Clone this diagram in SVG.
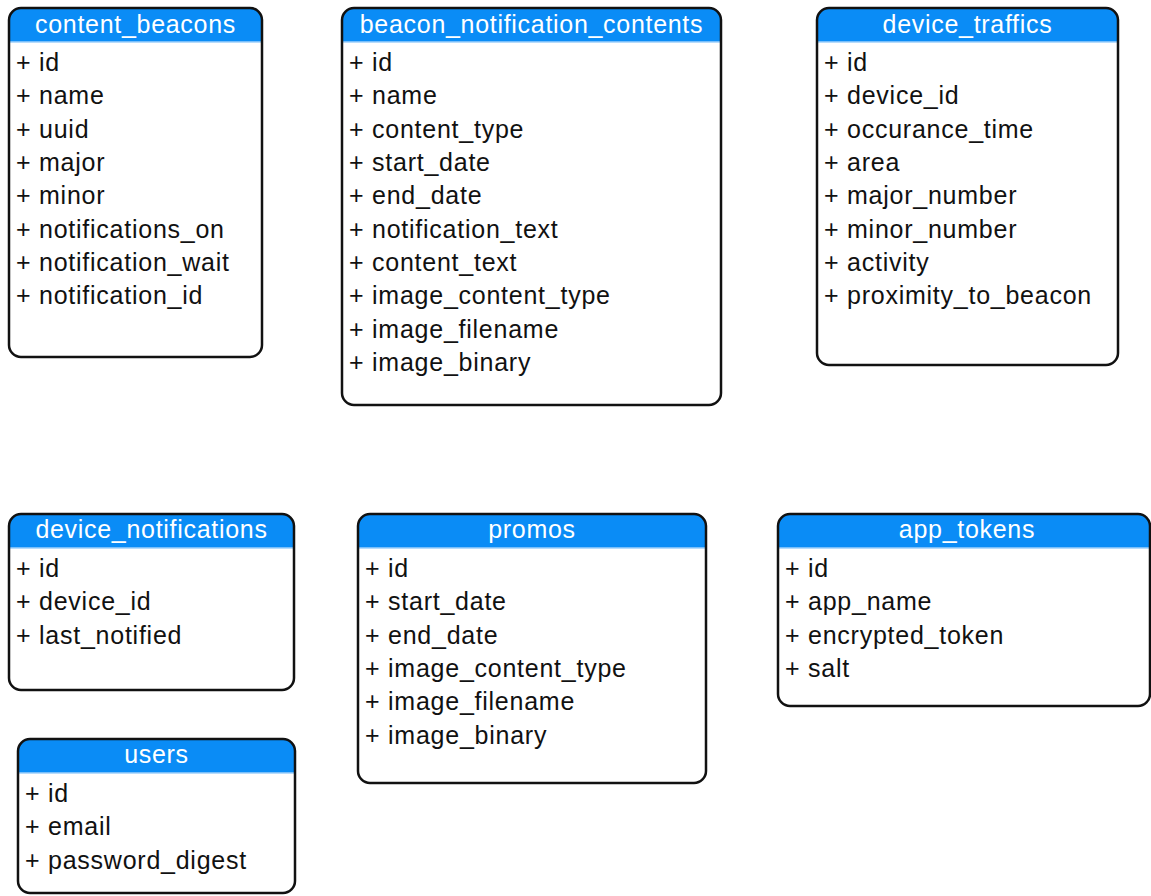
<svg xmlns="http://www.w3.org/2000/svg" width="1151" height="896" viewBox="0 0 1151 896">
<style>
.box{fill:#fff;stroke:none}
.frame{fill:none;stroke:#111;stroke-width:2.5}
.hdr{fill:#0a8cf6}
.hline{stroke:#9fd0fb;stroke-width:1.5}
.title{font-family:"Liberation Sans",Arial,sans-serif;font-size:25px;fill:#fff;text-anchor:middle;letter-spacing:0.7px}
.row{font-family:"Liberation Sans",Arial,sans-serif;font-size:25px;fill:#111;letter-spacing:0.75px}
</style>
<rect width="1151" height="896" fill="#fff"/>
<g id="connectors"></g>

<g id="content_beacons">
<rect class="box" x="9" y="8" width="253" height="349" rx="12"/>
<path class="hdr" d="M9,42 V20 A12,12 0 0 1 21,8 H250 A12,12 0 0 1 262,20 V42 Z"/>
<line class="hline" x1="9" y1="42" x2="262" y2="42"/>
<rect class="frame" x="9" y="8" width="253" height="349" rx="12"/>
<text class="title" x="135.5" y="33">content_beacons</text>
<text class="row" x="16" y="71">+ id</text>
<text class="row" x="16" y="104.3">+ name</text>
<text class="row" x="16" y="137.7">+ uuid</text>
<text class="row" x="16" y="171">+ major</text>
<text class="row" x="16" y="204.3">+ minor</text>
<text class="row" x="16" y="237.7">+ notifications_on</text>
<text class="row" x="16" y="271">+ notification_wait</text>
<text class="row" x="16" y="304.3">+ notification_id</text>
</g>

<g id="beacon_notification_contents">
<rect class="box" x="342" y="8" width="379" height="397" rx="12"/>
<path class="hdr" d="M342,42 V20 A12,12 0 0 1 354,8 H709 A12,12 0 0 1 721,20 V42 Z"/>
<line class="hline" x1="342" y1="42" x2="721" y2="42"/>
<rect class="frame" x="342" y="8" width="379" height="397" rx="12"/>
<text class="title" x="531.5" y="33">beacon_notification_contents</text>
<text class="row" x="349" y="71">+ id</text>
<text class="row" x="349" y="104.3">+ name</text>
<text class="row" x="349" y="137.7">+ content_type</text>
<text class="row" x="349" y="171">+ start_date</text>
<text class="row" x="349" y="204.3">+ end_date</text>
<text class="row" x="349" y="237.7">+ notification_text</text>
<text class="row" x="349" y="271">+ content_text</text>
<text class="row" x="349" y="304.3">+ image_content_type</text>
<text class="row" x="349" y="337.7">+ image_filename</text>
<text class="row" x="349" y="371">+ image_binary</text>
</g>

<g id="device_traffics">
<rect class="box" x="817" y="8" width="301" height="357" rx="12"/>
<path class="hdr" d="M817,42 V20 A12,12 0 0 1 829,8 H1106 A12,12 0 0 1 1118,20 V42 Z"/>
<line class="hline" x1="817" y1="42" x2="1118" y2="42"/>
<rect class="frame" x="817" y="8" width="301" height="357" rx="12"/>
<text class="title" x="967.5" y="33">device_traffics</text>
<text class="row" x="824" y="71">+ id</text>
<text class="row" x="824" y="104.3">+ device_id</text>
<text class="row" x="824" y="137.7">+ occurance_time</text>
<text class="row" x="824" y="171">+ area</text>
<text class="row" x="824" y="204.3">+ major_number</text>
<text class="row" x="824" y="237.7">+ minor_number</text>
<text class="row" x="824" y="271">+ activity</text>
<text class="row" x="824" y="304.3">+ proximity_to_beacon</text>
</g>

<g id="device_notifications">
<rect class="box" x="9" y="514" width="285" height="176" rx="12"/>
<path class="hdr" d="M9,548 V526 A12,12 0 0 1 21,514 H282 A12,12 0 0 1 294,526 V548 Z"/>
<line class="hline" x1="9" y1="548" x2="294" y2="548"/>
<rect class="frame" x="9" y="514" width="285" height="176" rx="12"/>
<text class="title" x="151.5" y="538">device_notifications</text>
<text class="row" x="16" y="577">+ id</text>
<text class="row" x="16" y="610.3">+ device_id</text>
<text class="row" x="16" y="643.7">+ last_notified</text>
</g>

<g id="promos">
<rect class="box" x="358" y="514" width="348" height="269" rx="12"/>
<path class="hdr" d="M358,548 V526 A12,12 0 0 1 370,514 H694 A12,12 0 0 1 706,526 V548 Z"/>
<line class="hline" x1="358" y1="548" x2="706" y2="548"/>
<rect class="frame" x="358" y="514" width="348" height="269" rx="12"/>
<text class="title" x="532" y="538">promos</text>
<text class="row" x="365" y="577">+ id</text>
<text class="row" x="365" y="610.3">+ start_date</text>
<text class="row" x="365" y="643.7">+ end_date</text>
<text class="row" x="365" y="677">+ image_content_type</text>
<text class="row" x="365" y="710.3">+ image_filename</text>
<text class="row" x="365" y="743.7">+ image_binary</text>
</g>

<g id="app_tokens">
<rect class="box" x="778" y="514" width="372" height="192" rx="12"/>
<path class="hdr" d="M778,548 V526 A12,12 0 0 1 790,514 H1138 A12,12 0 0 1 1150,526 V548 Z"/>
<line class="hline" x1="778" y1="548" x2="1150" y2="548"/>
<rect class="frame" x="778" y="514" width="372" height="192" rx="12"/>
<text class="title" x="967" y="538">app_tokens</text>
<text class="row" x="785" y="577">+ id</text>
<text class="row" x="785" y="610.3">+ app_name</text>
<text class="row" x="785" y="643.7">+ encrypted_token</text>
<text class="row" x="785" y="677">+ salt</text>
</g>

<g id="users">
<rect class="box" x="18" y="739" width="277" height="154" rx="12"/>
<path class="hdr" d="M18,773 V751 A12,12 0 0 1 30,739 H283 A12,12 0 0 1 295,751 V773 Z"/>
<line class="hline" x1="18" y1="773" x2="295" y2="773"/>
<rect class="frame" x="18" y="739" width="277" height="154" rx="12"/>
<text class="title" x="156.5" y="763">users</text>
<text class="row" x="25" y="802">+ id</text>
<text class="row" x="25" y="835.3">+ email</text>
<text class="row" x="25" y="868.7">+ password_digest</text>
</g>
</svg>
